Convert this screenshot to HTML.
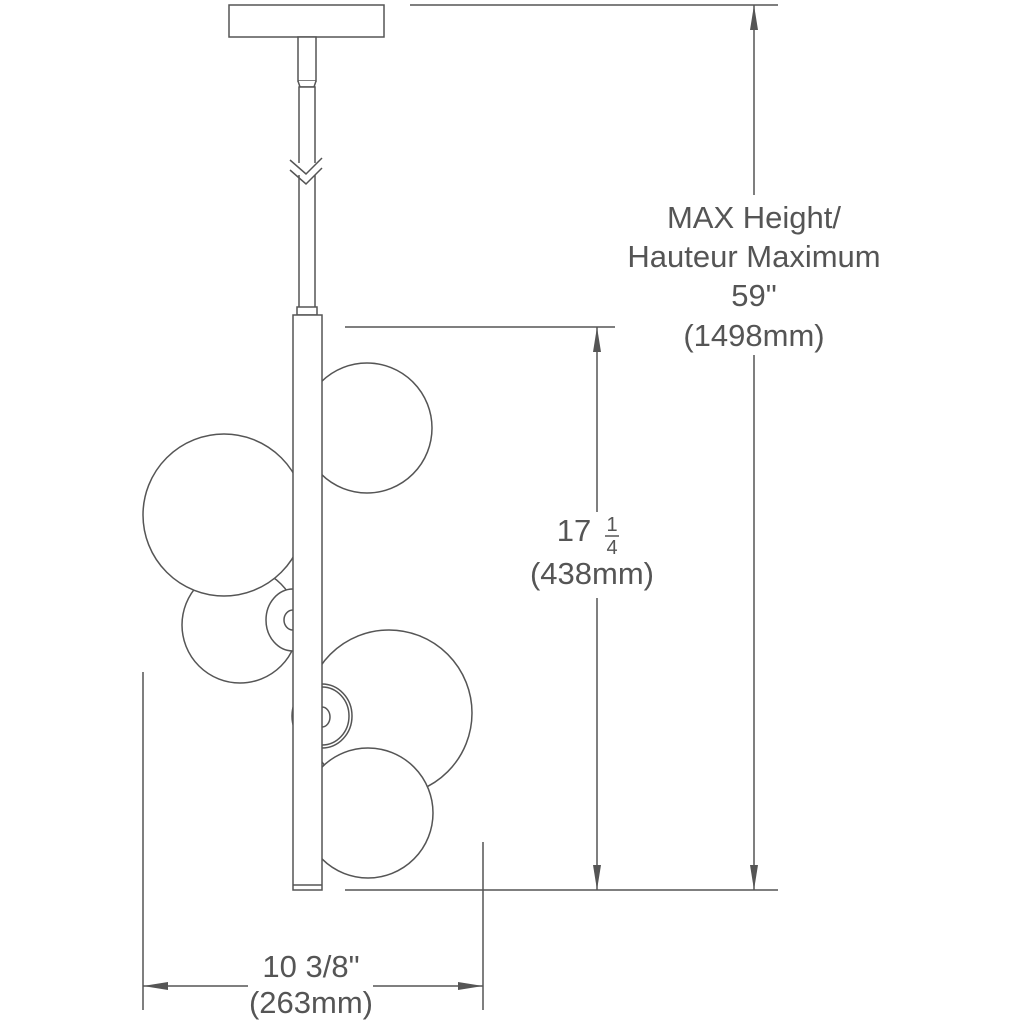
<!DOCTYPE html>
<html><head><style>html,body{margin:0;padding:0;background:#fff}svg{display:block}</style></head>
<body>
<svg width="1024" height="1024" viewBox="0 0 1024 1024" xmlns="http://www.w3.org/2000/svg">
<g fill="#fff" stroke="#555" stroke-width="1.5">
<rect x="229" y="5" width="155" height="32"/>
<rect x="298" y="37" width="18" height="44"/>
<path d="M298 81 L300 87 L314 87 L316 81"/>
<rect x="299" y="87" width="16" height="222"/>
<rect x="297" y="307" width="20" height="8"/>
<circle cx="240" cy="625" r="58"/>
<ellipse cx="293" cy="620" rx="27" ry="31"/>
<ellipse cx="293" cy="620" rx="9" ry="10"/>
<circle cx="224" cy="515" r="81"/>
<circle cx="367" cy="428" r="65"/>
<circle cx="389" cy="713" r="83"/>
<ellipse cx="322" cy="716" rx="30" ry="32"/>
<ellipse cx="322" cy="716" rx="27" ry="29"/>
<ellipse cx="322" cy="717" rx="8" ry="10"/>
<circle cx="368" cy="813" r="65"/>
<rect x="293" y="315" width="29" height="575"/>
<line x1="293" y1="885" x2="322" y2="885"/>
</g>
<rect x="296" y="163" width="22" height="12" fill="#fff"/>
<path d="M290 160 L306 174 L322 158 M290 170 L306 184 L322 168" fill="none" stroke="#555" stroke-width="1.5"/>
<g stroke="#555" stroke-width="1.5" fill="none">
<line x1="410" y1="5" x2="778" y2="5"/>
<line x1="345" y1="890" x2="778" y2="890"/>
<line x1="345" y1="327" x2="615" y2="327"/>
<line x1="754" y1="5" x2="754" y2="195"/>
<line x1="754" y1="355" x2="754" y2="890"/>
<line x1="597" y1="327" x2="597" y2="512"/>
<line x1="597" y1="598" x2="597" y2="890"/>
<line x1="143" y1="672" x2="143" y2="1010"/>
<line x1="483" y1="842" x2="483" y2="1010"/>
<line x1="143" y1="986" x2="248" y2="986"/>
<line x1="373" y1="986" x2="483" y2="986"/>
</g>
<g fill="#555">
<path d="M754 5 L750 30 L758 30Z"/><path d="M754 890 L750 865 L758 865Z"/>
<path d="M597 327 L593 352 L601 352Z"/><path d="M597 890 L593 865 L601 865Z"/>
<path d="M143 986 L168 982 L168 990Z"/><path d="M483 986 L458 982 L458 990Z"/>
</g>
<g font-family="Liberation Sans, sans-serif" font-size="31" fill="#555" text-anchor="middle">
<text x="754" y="228">MAX Height/</text>
<text x="754" y="267">Hauteur Maximum</text>
<text x="754" y="306">59"</text>
<text x="754" y="346">(1498mm)</text>
<text x="574" y="541">17</text>
<text x="612" y="531" font-size="20">1</text>
<line x1="605" y1="536" x2="619" y2="536" stroke="#555" stroke-width="1.5"/>
<text x="612" y="554" font-size="20">4</text>
<text x="592" y="584">(438mm)</text>
<text x="311" y="977">10 3/8"</text>
<text x="311" y="1013">(263mm)</text>
</g>
</svg>
</body></html>
